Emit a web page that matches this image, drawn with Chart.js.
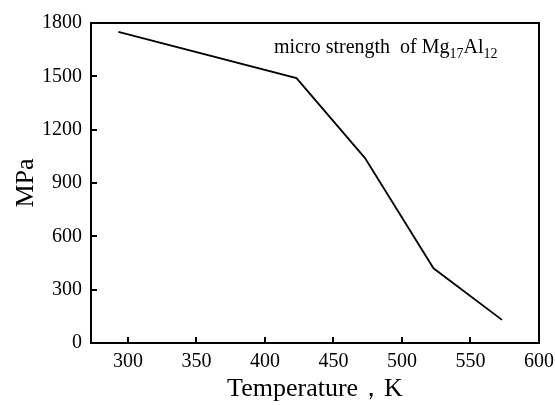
<!DOCTYPE html>
<html lang="en">
<head>
    <meta charset="UTF-8">
    <title>micro strength of Mg17Al12</title>
    <script src="https://cdn.jsdelivr.net/npm/chart.js"></script>
    <style>
        body {
            margin: 0;
            background-color: #ffffff;
        }
        canvas {
            display: block;
        }
    </style>
</head>
<body>
    <canvas id="strengthChart" width="555" height="405"></canvas>
    <script>
        // Data
        const temperatures = [293, 423, 473, 523, 573];
        const strength = [1750, 1490, 1040, 420, 130];
        const xTicks = [300, 350, 400, 450, 500, 550, 600];
        const yTicks = [0, 300, 600, 900, 1200, 1500, 1800];

        const serif = "'Liberation Serif', 'Times New Roman', serif";

        // frame + inward ticks + label inside the plot
        const framePlugin = {
            id: 'frame',
            afterDraw(chart) {
                const ctx = chart.ctx;
                const area = chart.chartArea;
                const xs = chart.scales.x;
                const ys = chart.scales.y;
                ctx.save();
                ctx.strokeStyle = '#000';
                ctx.lineWidth = 2;
                ctx.strokeRect(area.left, area.top, area.right - area.left, area.bottom - area.top);

                ctx.beginPath();
                xTicks.forEach(v => {
                    const px = Math.round(xs.getPixelForValue(v));
                    ctx.moveTo(px, area.bottom);
                    ctx.lineTo(px, area.bottom - 6);
                });
                yTicks.forEach(v => {
                    const py = Math.round(ys.getPixelForValue(v));
                    ctx.moveTo(area.left, py);
                    ctx.lineTo(area.left + 6, py);
                });
                ctx.stroke();

                // "micro strength  of Mg17Al12"
                const parts = [
                    ['micro strength  of ', 20, 0],
                    ['Mg', 20, 0],
                    ['17', 14, 5],
                    ['Al', 20, 0],
                    ['12', 14, 5]
                ];
                let x = area.left + 183;
                const base = area.top + 30;
                ctx.fillStyle = '#000';
                ctx.textAlign = 'left';
                ctx.textBaseline = 'alphabetic';
                parts.forEach(p => {
                    ctx.font = p[1] + 'px ' + serif;
                    ctx.fillText(p[0], x, base + p[2]);
                    x += ctx.measureText(p[0]).width;
                });
                ctx.restore();
            }
        };

        const ctx = document.getElementById('strengthChart').getContext('2d');
        const strengthChart = new Chart(ctx, {
            type: 'line',
            data: {
                datasets: [{
                    label: 'micro strength of Mg17Al12',
                    data: temperatures.map((t, i) => ({ x: t, y: strength[i] })),
                    borderColor: '#000',
                    borderWidth: 1.8,
                    pointRadius: 0,
                    fill: false,
                    tension: 0
                }]
            },
            options: {
                responsive: false,
                animation: false,
                layout: {
                    padding: { left: 0, right: 16, top: 23, bottom: 0 }
                },
                plugins: {
                    legend: { display: false },
                    tooltip: { enabled: false }
                },
                scales: {
                    x: {
                        type: 'linear',
                        min: 273,
                        max: 600,
                        afterBuildTicks: (scale) => {
                            scale.ticks = xTicks.map(v => ({ value: v }));
                        },
                        afterFit: (scale) => {
                            scale.height = 62;
                            scale.paddingLeft = 0;
                            scale.paddingRight = 0;
                        },
                        grid: { display: false, drawTicks: false },
                        border: { display: true, color: '#000', width: 2 },
                        ticks: {
                            color: '#000',
                            padding: 7,
                            maxRotation: 0,
                            callback: (v) => String(v),
                            font: { family: serif, size: 20 }
                        },
                        title: {
                            display: true,
                            text: 'Temperature，K',
                            color: '#000',
                            padding: { top: 0, bottom: 0 },
                            font: { family: serif, size: 26 }
                        }
                    },
                    y: {
                        type: 'linear',
                        min: 0,
                        max: 1800,
                        afterBuildTicks: (scale) => {
                            scale.ticks = yTicks.map(v => ({ value: v }));
                        },
                        afterFit: (scale) => {
                            scale.width = 91;
                            scale.paddingTop = 0;
                            scale.paddingBottom = 0;
                        },
                        grid: { display: false, drawTicks: false },
                        border: { display: true, color: '#000', width: 2 },
                        ticks: {
                            color: '#000',
                            padding: 9,
                            callback: (v) => String(v),
                            font: { family: serif, size: 20 }
                        },
                        title: {
                            display: true,
                            text: 'MPa',
                            color: '#000',
                            padding: { top: 11, bottom: 0 },
                            font: { family: serif, size: 26 }
                        }
                    }
                }
            },
            plugins: [framePlugin]
        });
    </script>
</body>
</html>
